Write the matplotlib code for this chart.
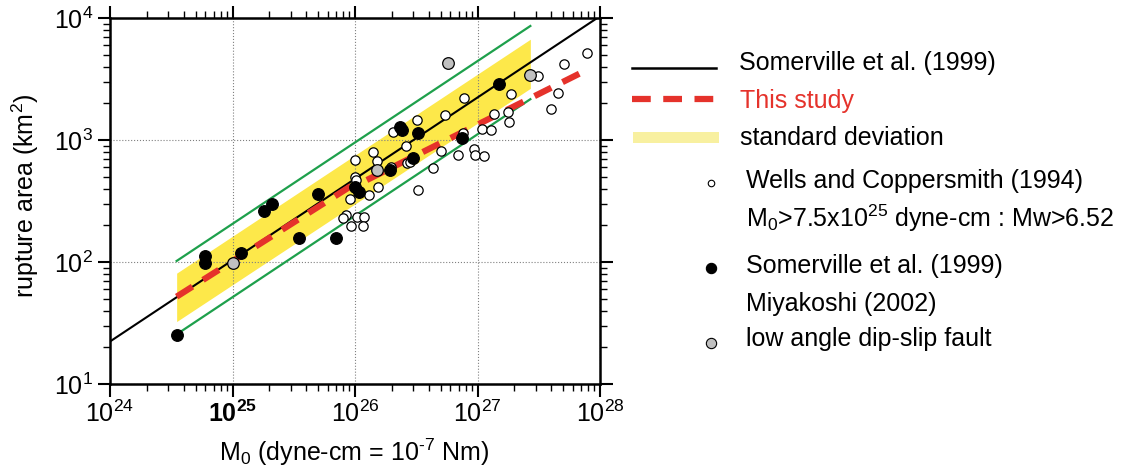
import matplotlib
matplotlib.use("Agg")
import matplotlib.pyplot as plt
from matplotlib.patches import Rectangle
from matplotlib.lines import Line2D

plt.rcParams['font.family'] = ['Liberation Sans', 'DejaVu Sans']
plt.rcParams['mathtext.fontset'] = 'custom'
plt.rcParams['mathtext.rm'] = 'Liberation Sans'
plt.rcParams['mathtext.it'] = 'Liberation Sans:italic'
plt.rcParams['mathtext.bf'] = 'Liberation Sans:bold'

# Somerville et al. (1999) scaling line
som_m0 = [1e24, 1e28]
som_a = [22.3, 10350]

# This study (two pieces)
ts_m0_1 = [3.5e24, 1.0e26]
ts_a_1 = [52, 440]
ts_m0_2 = [1.25e26, 7.8e27]
ts_a_2 = [470, 3750]

# standard deviation band
band_m0 = [3.5e24, 2.7e27]
band_hi = [81, 6700]
band_lo = [32.5, 2650]

# green lines (factor 2 / 0.5)
gr_hi_m0 = [3.5e24, 2.7e27]
gr_hi_a = [102, 8600]
gr_lo_m0 = [3.7e24, 2.7e27]
gr_lo_a = [26.5, 2160]

# Wells and Coppersmith (1994)
wc_m0 = [1.0e26, 1.39e26, 1.5e26, 1.0e26, 1.02e26, 1.53e26, 1.31e26, 9.1e25,
         8.46e25, 8.0e25, 1.03e26, 1.19e26, 9.2e25, 1.16e26, 2.06e26, 2.6e26,
         3.23e26, 5.43e26, 7.8e26, 2.64e26, 2.81e26, 1.97e26, 4.37e26, 5.04e26,
         6.89e26, 9.36e26, 9.5e26, 1.14e27, 3.29e26, 7.66e26, 7.78e27, 5.08e27,
         3.13e27, 4.57e27, 3.96e27, 1.87e27, 1.37e27, 1.77e27, 1.8e27, 1.09e27,
         1.29e27]
wc_a = [680, 793, 673, 500, 470, 414, 354, 327,
        243, 228, 235, 235, 197, 197, 1156, 898,
        1459, 1603, 2200, 643, 663, 604, 594, 817,
        753, 838, 750, 740, 389, 1135, 5200, 4200,
        3350, 2415, 1786, 2382, 1632, 1686, 1413, 1240,
        1208]

# Somerville et al. (1999) / Miyakoshi (2002)
sm_m0 = [3.5e24, 6.0e24, 6.0e24, 1.17e25, 1.81e25, 2.11e25, 3.5e25, 5.0e25,
         7.0e25, 1.0e26, 1.08e26, 1.93e26, 2.33e26, 2.4e26, 2.99e26, 3.29e26,
         7.5e26, 1.51e27]
sm_a = [25, 112, 99, 119, 263, 297, 158, 359,
        158, 414, 377, 567, 1285, 1208, 708, 1135,
        1045, 2877]

# low angle dip-slip fault
la_m0 = [1.0e25, 1.5e26, 5.78e26, 2.68e27]
la_a = [99, 567, 4255, 3413]

xticks = [1e24, 1e25, 1e26, 1e27, 1e28]
xlabels = [r'$\mathregular{10^{24}}$', r'$\mathbf{10^{25}}$', r'$\mathregular{10^{26}}$',
           r'$\mathregular{10^{27}}$', r'$\mathregular{10^{28}}$']
yticks = [1e1, 1e2, 1e3, 1e4]
ylabels = [r'$\mathregular{10^{1}}$', r'$\mathregular{10^{2}}$', r'$\mathregular{10^{3}}$',
           r'$\mathregular{10^{4}}$']

yellow = '#fde84a'
green = '#1ea04c'
red = '#e5322b'

fig = plt.figure(figsize=(11.21, 4.72), dpi=100)
ax = fig.add_axes([110 / 1121, 88 / 472, 490 / 1121, 366 / 472])
ax.set_xscale('log')
ax.set_yscale('log')
ax.set_xlim(1e24, 1e28)
ax.set_ylim(1e1, 1e4)

ax.fill_between(band_m0, band_lo, band_hi, color=yellow, lw=0, zorder=1)
ax.plot(gr_hi_m0, gr_hi_a, color=green, lw=1.6, zorder=2)
ax.plot(gr_lo_m0, gr_lo_a, color=green, lw=1.6, zorder=2)
ax.plot(som_m0, som_a, color='black', lw=1.5, zorder=3)
ax.plot(ts_m0_1, ts_a_1, color=red, lw=4.5, dashes=(3, 2), solid_capstyle='butt', zorder=4)
ax.plot(ts_m0_2, ts_a_2, color=red, lw=4.5, dashes=(3, 2), solid_capstyle='butt', zorder=4)

ax.scatter(wc_m0, wc_a, s=45, facecolor='white', edgecolor='black', lw=0.9, zorder=5)
ax.scatter(sm_m0, sm_a, s=70, facecolor='black', edgecolor='black', lw=0.9, zorder=6)
ax.scatter(la_m0, la_a, s=70, facecolor='#c0c0c0', edgecolor='black', lw=0.9, zorder=6)

ax.set_xticks(xticks, xlabels, fontsize=18)
ax.set_yticks(yticks, ylabels, fontsize=18)
ax.grid(which='major', ls=':', color='gray', lw=0.8)
ax.tick_params(which='major', direction='out', length=9, width=1.5,
               top=True, right=True, pad=3)
ax.tick_params(which='minor', direction='out', length=5, width=1.0,
               top=True, right=True)
ax.tick_params(axis='x', which='minor', labelbottom=False)
ax.tick_params(axis='y', which='minor', labelleft=False)
for sp in ax.spines.values():
    sp.set_linewidth(1.8)

fig.text(354 / 1121, 1 - 452 / 472, 'M$_0$ (dyne-cm = 10$^{\\mathregular{\u2010}7}$ Nm)',
         fontsize=18, ha='center', va='center')
fig.text(25 / 1121, 1 - 196 / 472, r'rupture area (km$^2$)', fontsize=18,
         ha='center', va='center', rotation=90)

# legend drawn in figure pixel space
lg = fig.add_axes([0, 0, 1, 1])
lg.set_xlim(0, 1121)
lg.set_ylim(472, 0)
lg.axis('off')
lg.add_line(Line2D([632, 716], [68, 68], color='black', lw=1.8))
lg.text(739, 63, 'Somerville et al. (1999)', fontsize=18, va='center')
lg.add_line(Line2D([632, 716], [99, 99], color=red, lw=4.5, dashes=(3, 2)))
lg.text(740, 101, 'This study', fontsize=18, va='center', color=red)
lg.add_patch(Rectangle((633, 132), 86, 11, color='#f8f0a0', lw=0))
lg.text(740, 138, 'standard deviation', fontsize=18, va='center')
lg.scatter([711], [183], s=22, facecolor='white', edgecolor='black', lw=0.8)
lg.text(746, 181, 'Wells and Coppersmith (1994)', fontsize=18, va='center')
lg.text(746, 218, r'M$_0$>7.5x10$^{25}$ dyne-cm : Mw>6.52', fontsize=18, va='center')
lg.scatter([711], [268], s=55, facecolor='black', edgecolor='black', lw=0.8)
lg.text(746, 266, 'Somerville et al. (1999)', fontsize=18, va='center')
lg.text(746, 304, 'Miyakoshi (2002)', fontsize=18, va='center')
lg.scatter([711], [343], s=55, facecolor='#c0c0c0', edgecolor='black', lw=0.8)
lg.text(746, 339, 'low angle dip-slip fault', fontsize=18, va='center')

fig.savefig('out.png', dpi=100)
